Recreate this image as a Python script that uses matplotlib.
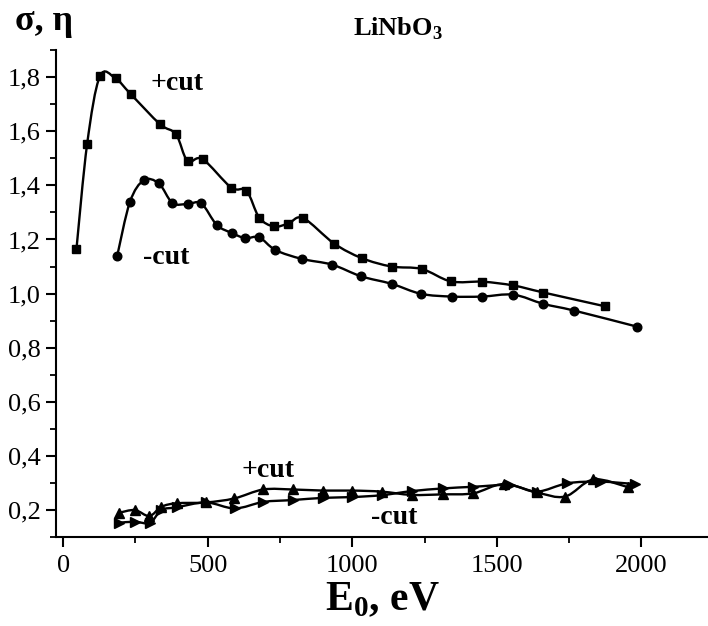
import numpy as np
import matplotlib
matplotlib.use('Agg')
import matplotlib.pyplot as plt
from matplotlib.path import Path
from matplotlib.patches import PathPatch
from matplotlib.ticker import MultipleLocator, FuncFormatter

plt.rcParams['font.family'] = ['Liberation Serif', 'DejaVu Serif']
plt.rcParams['mathtext.fontset'] = 'custom'
plt.rcParams['mathtext.rm'] = 'Liberation Serif'
plt.rcParams['mathtext.bf'] = 'Liberation Serif:bold'

# sigma, +cut (squares)
sig_plus_e = [46, 83, 127, 181, 233, 335, 390, 430, 482, 581, 634, 678, 729, 779, 830,
              937, 1033, 1136, 1240, 1341, 1450, 1557, 1661, 1874]
sig_plus = [1.165, 1.554, 1.803, 1.795, 1.738, 1.626, 1.589, 1.49, 1.497, 1.392, 1.38, 1.281,
            1.248, 1.259, 1.279, 1.185, 1.131, 1.10, 1.091, 1.045, 1.044, 1.03, 1.004, 0.953]

# sigma, -cut (circles)
sig_minus_e = [187, 231, 279, 331, 378, 430, 478, 531, 583, 630, 678, 734, 826, 930,
               1030, 1136, 1238, 1345, 1448, 1557, 1661, 1768, 1984]
sig_minus = [1.14, 1.339, 1.419, 1.407, 1.335, 1.331, 1.333, 1.254, 1.224, 1.205, 1.208,
             1.161, 1.128, 1.107, 1.064, 1.036, 0.999, 0.989, 0.989, 0.996, 0.962, 0.937, 0.878]

# eta, +cut (up triangles)
eta_plus_e = [194, 248, 298, 340, 392, 494, 592, 692, 794, 898, 1000, 1102, 1205, 1315,
              1419, 1523, 1638, 1736, 1834, 1955]
eta_plus = [0.19, 0.20, 0.178, 0.212, 0.225, 0.228, 0.243, 0.276, 0.276, 0.272, 0.272, 0.268,
            0.256, 0.258, 0.262, 0.296, 0.265, 0.25, 0.313, 0.284]

# eta, -cut (right triangles)
eta_minus_e = [194, 248, 300, 340, 392, 494, 594, 692, 794, 898, 1000, 1102, 1205, 1315,
               1419, 1546, 1638, 1744, 1857, 1978]
eta_minus = [0.153, 0.157, 0.153, 0.2, 0.21, 0.228, 0.206, 0.23, 0.237, 0.245, 0.248, 0.255,
             0.27, 0.28, 0.286, 0.292, 0.268, 0.299, 0.305, 0.296]


def smooth_path(x, y):
    # Catmull-Rom through the points, written as cubic Bezier segments
    p = np.column_stack([x, y]).astype(float)
    ext = np.vstack([p[0], p, p[-1]])
    verts = [p[0]]
    codes = [Path.MOVETO]
    for i in range(len(p) - 1):
        p0, p1, p2, p3 = ext[i], ext[i + 1], ext[i + 2], ext[i + 3]
        verts += [p1 + (p2 - p0) / 6.0, p2 - (p3 - p1) / 6.0, p2]
        codes += [Path.CURVE4] * 3
    return Path(verts, codes)


fig = plt.figure(figsize=(7.08, 6.26), dpi=100)
ax = fig.add_axes([0.079, 0.142, 0.921, 0.778])

series = [
    (sig_plus_e, sig_plus, 's', 6.2),
    (sig_minus_e, sig_minus, 'o', 6.2),
    (eta_plus_e, eta_plus, '^', 7),
    (eta_minus_e, eta_minus, '>', 7),
]
for xs, ys, m, ms in series:
    ax.add_patch(PathPatch(smooth_path(xs, ys), fill=False, lw=1.7, ec='black'))
    ax.plot(xs, ys, ls='none', marker=m, ms=ms, color='black')

ax.set_xlim(-25, 2230)
ax.set_ylim(0.1, 1.9)

for s in ['top', 'right']:
    ax.spines[s].set_visible(False)
for s in ['left', 'bottom']:
    ax.spines[s].set_linewidth(1.5)

ax.xaxis.set_major_locator(MultipleLocator(500))
ax.xaxis.set_minor_locator(MultipleLocator(250))
ax.yaxis.set_major_locator(MultipleLocator(0.2))
ax.yaxis.set_minor_locator(MultipleLocator(0.1))
ax.yaxis.set_major_formatter(FuncFormatter(lambda v, p: f"{v:.1f}".replace('.', ',')))
ax.tick_params(which='major', length=7, width=1.5, labelsize=19, pad=4)
ax.tick_params(which='minor', length=4, width=1.3)
ax.tick_params(axis='x', which='major', pad=6)

ax.set_xlabel(r"$\mathbf{E}_\mathbf{0}$, eV", fontsize=30, fontweight='bold', labelpad=2)

fig.text(0.021, 0.966, "σ, η", fontsize=26, fontweight='bold', ha='left', va='center')
fig.text(0.562, 0.954, r"LiNbO$_\mathbf{3}$", fontsize=19, fontweight='bold',
         ha='center', va='center')

ax.text(393, 1.778, "+cut", fontsize=20, fontweight='bold', ha='center', va='center')
ax.text(355, 1.133, "-cut", fontsize=20, fontweight='bold', ha='center', va='center')
ax.text(708, 0.347, "+cut", fontsize=20, fontweight='bold', ha='center', va='center')
ax.text(1144, 0.174, "-cut", fontsize=20, fontweight='bold', ha='center', va='center')

fig.savefig('out.png', dpi=100)
